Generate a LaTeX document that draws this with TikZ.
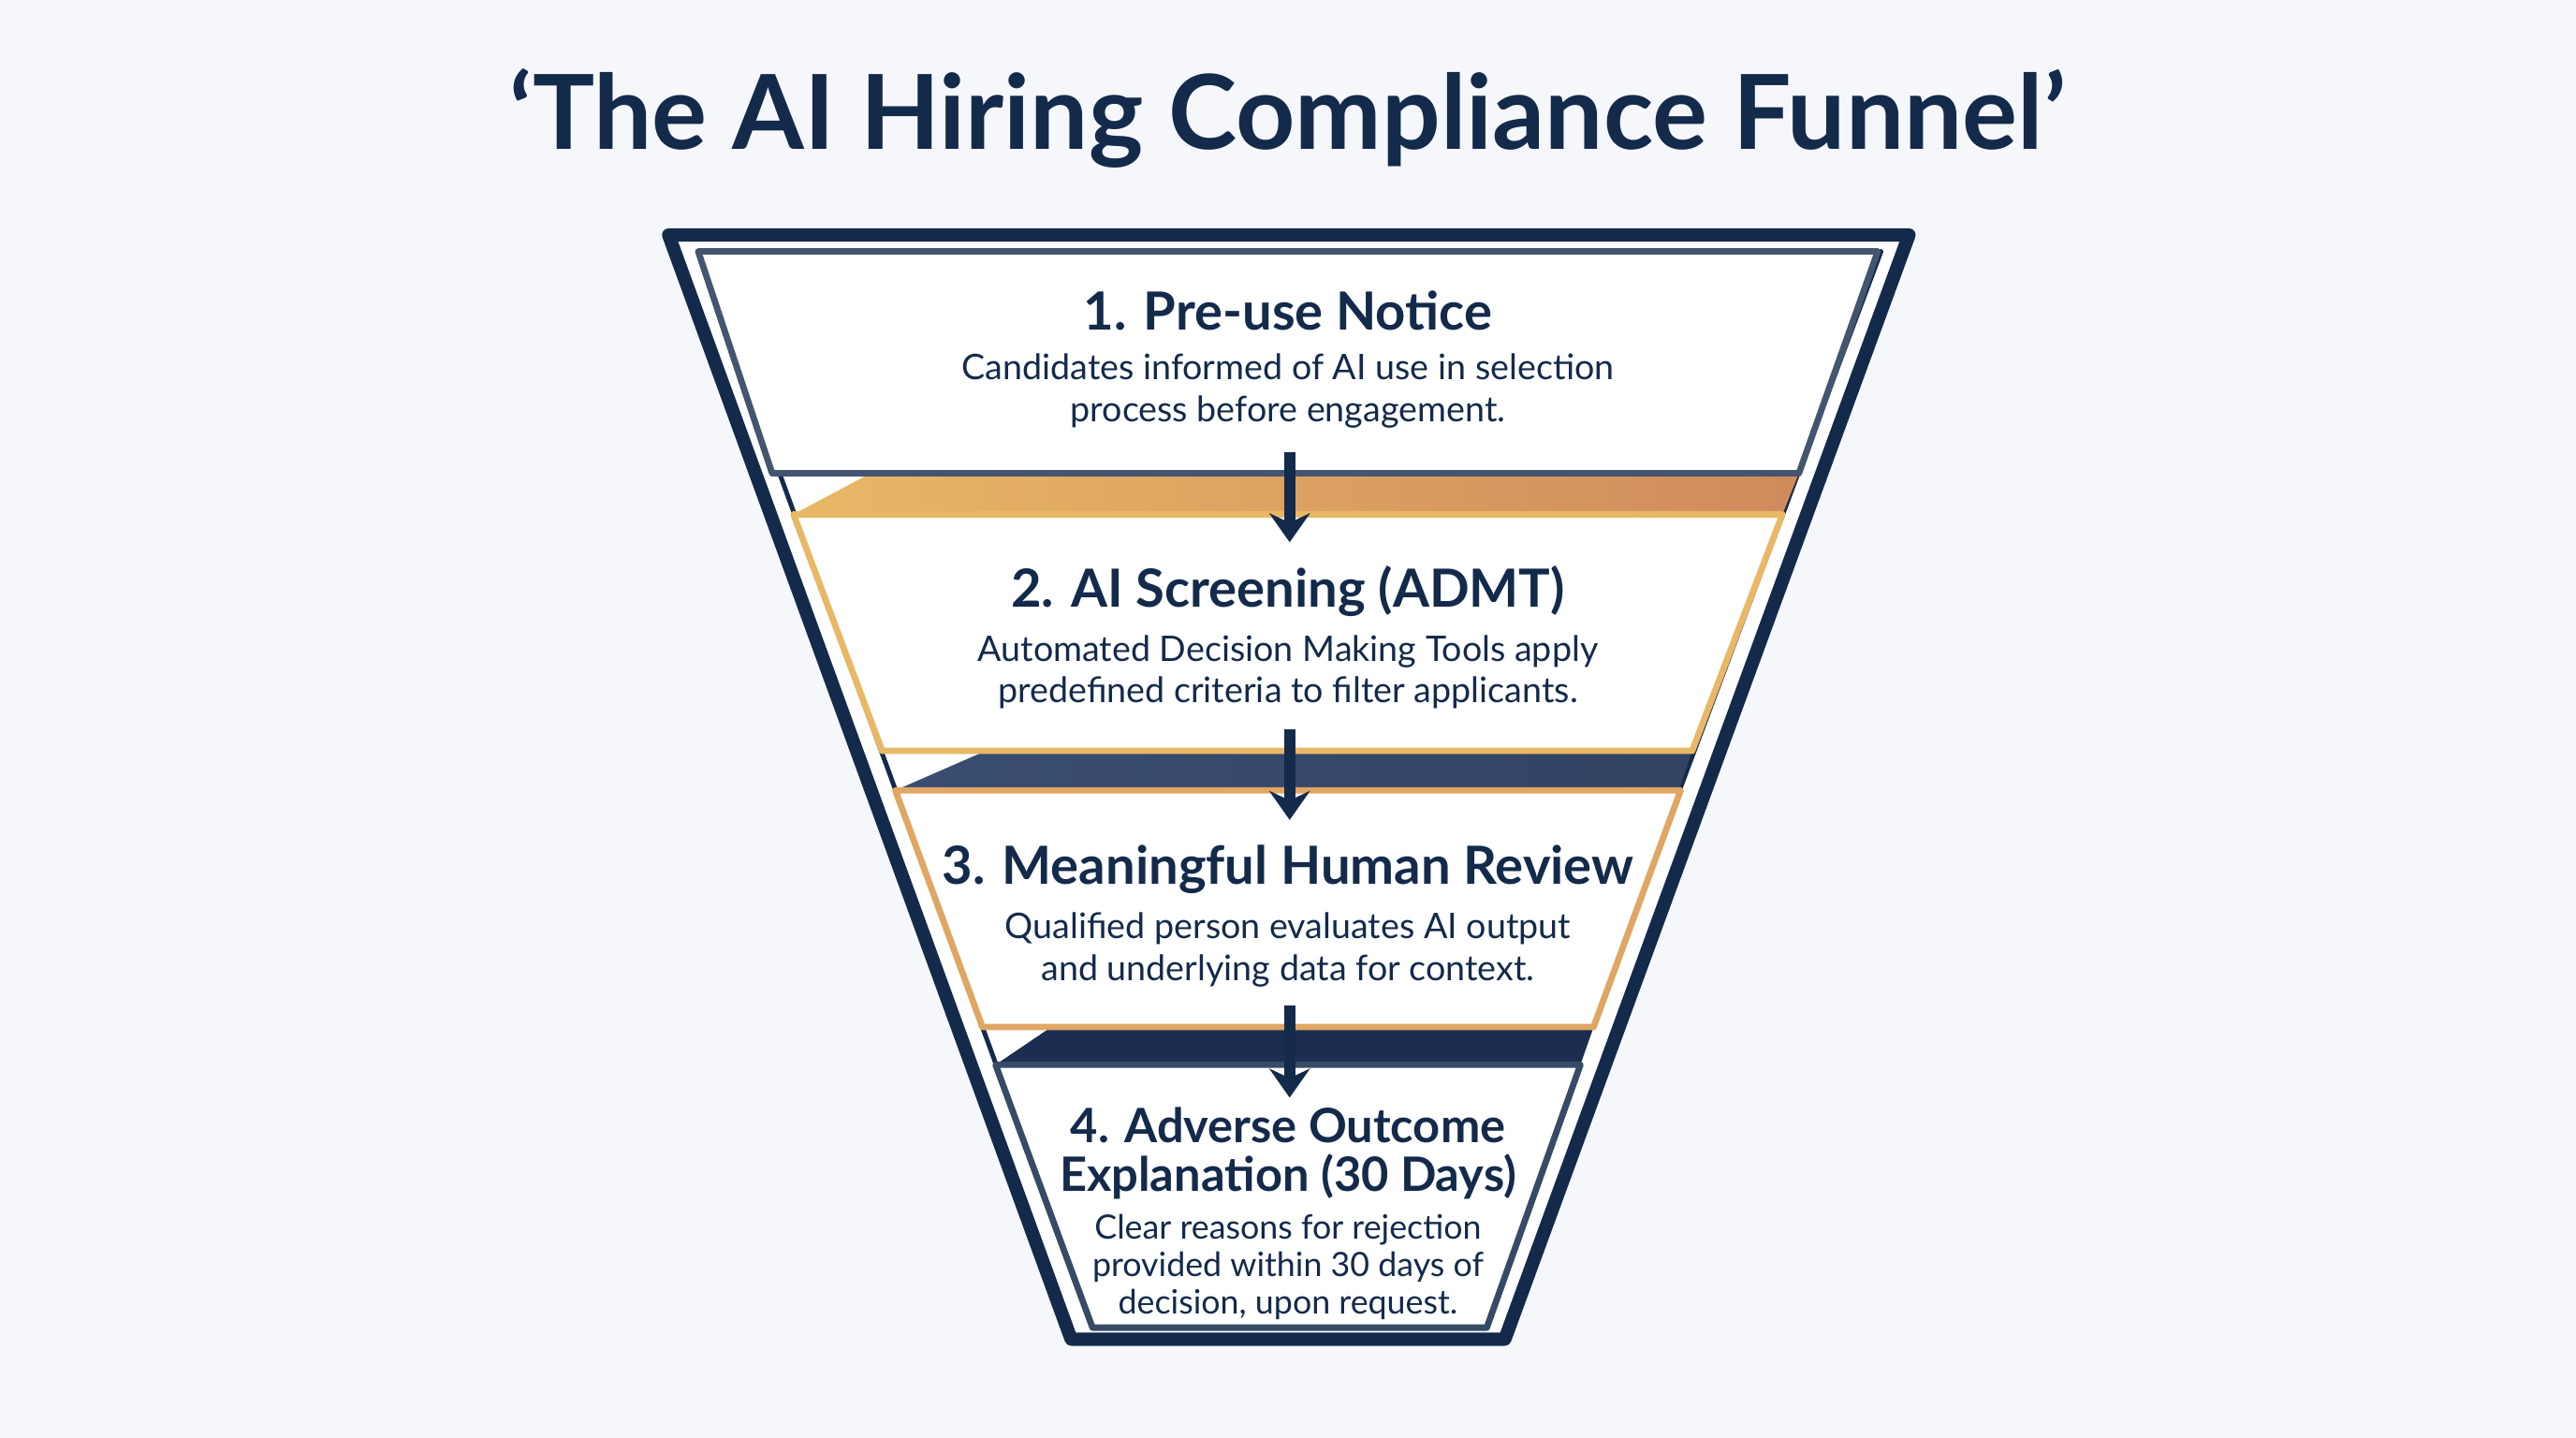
\documentclass[tikz,border=0pt]{standalone}
\usepackage{fontspec}
\setmainfont{Lato}
\begin{document}
\begin{tikzpicture}[x=0.01cm,y=-0.01cm,
 box/.style={fill=white,line width=1.1pt,line join=round},
 head/.style={font=\bfseries\fontsize{9.1}{11}\selectfont,text=navy,align=center},
 body/.style={font=\fontsize{6.1}{7.2}\selectfont,text=navy,align=center},
 arr/.style={-{Stealth[length=5pt,width=7pt]},line width=2pt,draw=navy}]
\usetikzlibrary{arrows.meta}
\definecolor{navy}{HTML}{142A4B}
\definecolor{gold}{HTML}{E8B866}
\definecolor{goldb}{HTML}{D08A5C}
\definecolor{orb}{HTML}{E0A664}
\definecolor{slab2}{HTML}{3A4E72}
\definecolor{slab3}{HTML}{1B2E52}
\fill[color={rgb,255:red,245;green,247;blue,250}] (0,0) rectangle (1568,875);
\node[font=\bfseries\fontsize{17.9}{20}\selectfont,text=navy] (title) at (784,72) {‘The AI Hiring Compliance Funnel’};
% outer funnel
\draw[navy,line width=2.3pt,line join=round,fill=white] (407,143)--(1162,143)--(916,815)--(652,815)--cycle;
\draw[navy,line width=0.8pt,line join=round] (425,153)--(1145,153)--(900,808)--(665,808)--cycle;
% slabs
\shade[left color=gold,right color=goldb] (530,288)--(1095,288)--(1085,313)--(483,313)--cycle;
\shade[left color=slab2,right color=slab3!90!white] (600,457)--(1030,457)--(1022,481)--(545,481)--cycle;
\fill[slab3] (640,625)--(970,625)--(962,648)--(606,648)--cycle;
% boxes
\draw[box,draw=navy!80] (425,153)--(1143,153)--(1095,288)--(470,288)--cycle;
\draw[box,draw=gold] (483,313)--(1085,313)--(1030,457)--(537,457)--cycle;
\draw[box,draw=orb] (545,481)--(1023,481)--(970,625)--(598,625)--cycle;
\draw[box,draw=navy!85] (606,648)--(962,648)--(905,808)--(665,808)--cycle;
% text
\node[head] (h1) at (784,189) {1. Pre-use Notice};
\node[body] (b1) at (784,238) {Candidates informed of AI use in selection\\process before engagement.};
\node[head] (h2) at (784,360) {2. AI Screening (ADMT)};
\node[body] (b2) at (784,409) {Automated Decision Making Tools apply\\predefined criteria to filter applicants.};
\node[head] (h3) at (784,529) {3. Meaningful Human Review};
\node[body] (b3) at (784,578) {Qualified person evaluates AI output\\and underlying data for context.};
\node[head,font=\bfseries\fontsize{8.2}{8.4}\selectfont] (h4) at (784,702) {4. Adverse Outcome\\Explanation (30 Days)};
\node[body,font=\fontsize{5.8}{6.5}\selectfont] (b4) at (784,771) {Clear reasons for rejection\\provided within 30 days of\\decision, upon request.};
\coordinate (a1) at (785,275); \coordinate (e1) at (785,330);
\coordinate (a2) at (785,444); \coordinate (e2) at (785,499);
\coordinate (a3) at (785,612); \coordinate (e3) at (785,668);
\draw[arr] (a1)--(e1); \draw[arr] (a2)--(e2); \draw[arr] (a3)--(e3);
\end{tikzpicture}
\end{document}
